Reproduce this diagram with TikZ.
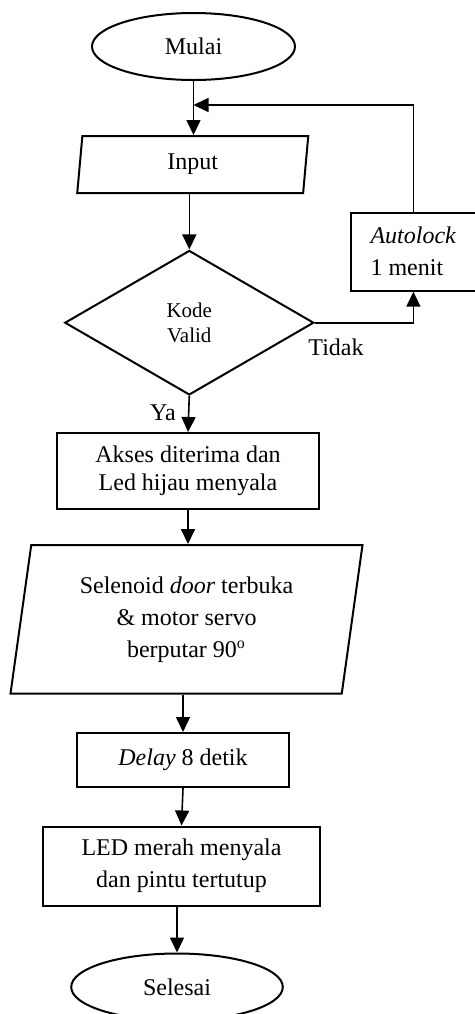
\documentclass[tikz,border=0pt]{standalone}
\usepackage{fontspec}
\setmainfont{Liberation Serif}
\usetikzlibrary{shapes.geometric, arrows.meta}

\tikzset{
    base/.style={draw, line width=1pt, inner sep=0pt, align=center,
        font=\fontsize{12}{14}\selectfont},
    term/.style={base, ellipse},
    proc/.style={base, rectangle},
    io/.style={base, trapezium, trapezium stretches body,
        trapezium left angle=#1, trapezium right angle={180-#1}},
    dec/.style={base, diamond, font=\fontsize{10.5}{12.5}\selectfont},
    lbl/.style={inner sep=0pt, font=\fontsize{12}{14}\selectfont}
}

\begin{document}
\begin{tikzpicture}[x=0.5pt, y=-0.5pt, >={Triangle[length=7.5pt, width=7pt]}, line width=0.8pt]
    \useasboundingbox (0,0) rectangle (475,1014);
    % Shapes
    \node[term, minimum width=101.5pt, minimum height=33.5pt] (mulai) at (193.5,46.5) {Mulai};
    \node[io=76.2, minimum width=115.5pt, minimum height=28.5pt] (input) at (192.75,164.5) {Input};
    \node[dec, minimum width=124.5pt, minimum height=72.25pt] (kode) at (189.3,322.7) {Kode\\Valid};
    \node[proc, align=left, minimum width=62.7pt, minimum height=39pt,
        font=\fontsize{12}{16}\selectfont] (autolock) at (413.4,251.7) {\textit{Autolock}\\1 menit};
    \node[proc, minimum width=131pt, minimum height=38pt] (akses) at (188,471)
        {Akses diterima dan\\Led hijau menyala};
    \node[io=76.4, minimum width=176pt, minimum height=74.25pt,
        font=\fontsize{12}{16}\selectfont] (selenoid) at (186.5,619.3)
        {Selenoid \textit{door} terbuka\\\& motor servo\\berputar 90\textsuperscript{o}};
    \node[proc, minimum width=105.7pt, minimum height=27pt] (delay) at (183,760) {\textit{Delay} 8 detik};
    \node[proc, minimum width=138.5pt, minimum height=39.5pt,
        font=\fontsize{12}{16}\selectfont] (led) at (181.5,866)
        {LED merah menyala\\dan pintu tertutup};
    \node[term, minimum width=105.8pt, minimum height=33.5pt] (selesai) at (177,987) {Selesai};
    % Connectors
    \coordinate (join) at (193.5,105);
    \draw[->] (mulai.south) -- (mulai.south |- input.north);
    \draw[->] (autolock.north) |- (join); % back to input
    \draw[->] (input.south -| kode.north) -- (kode.north);
    \draw[->] (kode.east) -| (autolock.south);
    \draw[->] (kode.south) -- (akses.north);
    \draw[->] (akses.south) -- (akses.south |- selenoid.north);
    \draw[->] (selenoid.south -| delay.north) -- (delay.north);
    \draw[->] (delay.south) -- (led.north);
    \draw[->] (selesai.north |- led.south) -- (selesai.north);
    % Labels
    \node[lbl] (tidak) at (336,347) {Tidak};
    \node[lbl] (ya) at (163,412.7) {Ya};
\end{tikzpicture}
\end{document}
